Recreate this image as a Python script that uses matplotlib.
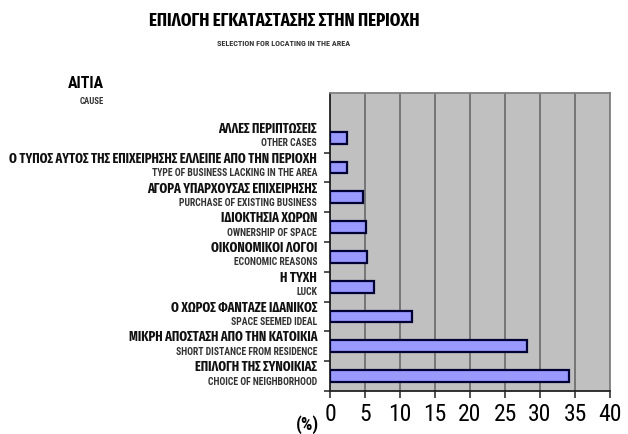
import matplotlib.pyplot as plt
import numpy as np

NARROW = ['Roboto Condensed', 'Fira Sans Condensed', 'DejaVu Sans']
XNARROW = ['Fira Sans Extra Condensed', 'Roboto Condensed', 'DejaVu Sans']

# causes, listed bottom to top
causes_gr = ["ΕΠΙΛΟΓΗ ΤΗΣ ΣΥΝΟΙΚΙΑΣ",
             "ΜΙΚΡΗ ΑΠΟΣΤΑΣΗ ΑΠΟ ΤΗΝ ΚΑΤΟΙΚΙΑ",
             "Ο ΧΩΡΟΣ ΦΑΝΤΑΖΕ ΙΔΑΝΙΚΟΣ",
             "Η ΤΥΧΗ",
             "ΟΙΚΟΝΟΜΙΚΟΙ ΛΟΓΟΙ",
             "ΙΔΙΟΚΤΗΣΙΑ ΧΩΡΩΝ",
             "ΑΓΟΡΑ ΥΠΑΡΧΟΥΣΑΣ ΕΠΙΧΕΙΡΗΣΗΣ",
             "Ο ΤΥΠΟΣ ΑΥΤΟΣ ΤΗΣ ΕΠΙΧΕΙΡΗΣΗΣ ΕΛΛΕΙΠΕ ΑΠΟ ΤΗΝ ΠΕΡΙΟΧΗ",
             "ΑΛΛΕΣ ΠΕΡΙΠΤΩΣΕΙΣ"]
causes_en = ["CHOICE OF NEIGHBORHOOD",
             "SHORT DISTANCE FROM RESIDENCE",
             "SPACE SEEMED IDEAL",
             "LUCK",
             "ECONOMIC REASONS",
             "OWNERSHIP OF SPACE",
             "PURCHASE OF EXISTING BUSINESS",
             "TYPE OF BUSINESS LACKING IN THE AREA",
             "OTHER CASES"]
percent = [34.1, 28.2, 11.7, 6.3, 5.3, 5.1, 4.7, 2.4, 2.4]
xticks = [0, 5, 10, 15, 20, 25, 30, 35, 40]

fig = plt.figure(figsize=(6.28, 4.35), dpi=100)
ax = fig.add_axes([0.5255, 0.0989, 0.4459, 0.685])
ax.set_facecolor('#c0c0c0')

y = np.arange(len(percent))
ax.barh(y, percent, height=0.4, color='#9999ff', edgecolor='#000033',
        linewidth=1.6, zorder=3)

ax.set_xlim(0, 40)
ax.set_ylim(-0.5, len(percent) + 0.5)
ax.set_xticks(xticks)
ax.xaxis.grid(True, color='#707070', linewidth=1.3, zorder=1)
ax.set_xticklabels([str(t) for t in xticks], family=NARROW, fontsize=17)
ax.tick_params(axis='x', length=5, width=1.2, pad=3, color='#333333')

# ticks between categories, labels drawn by hand
ax.set_yticks(np.arange(len(percent)) - 0.5)
ax.set_yticklabels([])
ax.tick_params(axis='y', length=4, width=1.2, color='#333333')

for side in ['top', 'right']:
    ax.spines[side].set_color('#808080')
    ax.spines[side].set_linewidth(1.3)
for side in ['left', 'bottom']:
    ax.spines[side].set_color('#222222')
    ax.spines[side].set_linewidth(1.3)

for yi, gr, en in zip(y, causes_gr, causes_en):
    ax.annotate(gr, xy=(0, yi + 0.5), xycoords=('axes fraction', 'data'),
                xytext=(-13, -5), textcoords='offset pixels',
                ha='right', va='center', family=XNARROW, fontweight='bold',
                fontsize=9.7, color='#111111')
    ax.annotate(en, xy=(0, yi + 0.5), xycoords=('axes fraction', 'data'),
                xytext=(-13, -19.5), textcoords='offset pixels',
                ha='right', va='center', family=NARROW, fontweight='bold',
                fontsize=7, color='#333333')

fig.text(0.452, 0.953, "ΕΠΙΛΟΓΗ ΕΓΚΑΤΑΣΤΑΣΗΣ ΣΤΗΝ ΠΕΡΙΟΧΗ", ha='center',
         va='center', family=XNARROW, fontweight='bold', fontsize=13.2)
fig.text(0.451, 0.901, "SELECTION FOR LOCATING IN THE AREA", ha='center',
         va='center', family=NARROW, fontweight='bold', fontsize=5.9,
         color='#333333')
fig.text(0.166, 0.808, "ΑΙΤΙΑ", ha='right', va='center', family=NARROW,
         fontweight='bold', fontsize=11.4)
fig.text(0.166, 0.766, "CAUSE", ha='right', va='center', family=NARROW,
         fontweight='bold', fontsize=6.3, color='#333333')
fig.text(0.489, 0.023, "(%)", ha='center', va='center', family=NARROW,
         fontweight='bold', fontsize=13)

fig.savefig('out.png', dpi=100)
